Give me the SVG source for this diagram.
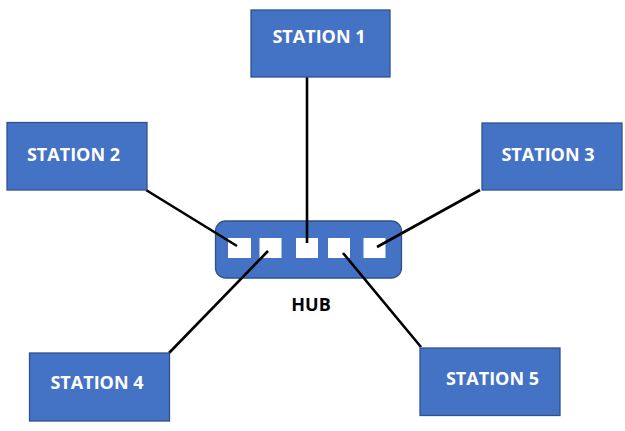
<svg xmlns="http://www.w3.org/2000/svg" width="625" height="431" viewBox="0 0 625 431">
<style>
.box{fill:#4472C4;stroke:#2F528F;stroke-width:1.3}
.lbl{font-family:"Open Sans","Liberation Sans",sans-serif;font-weight:bold;font-size:18px;fill:#fff;text-anchor:middle}
.hublbl{font-family:"Open Sans","Liberation Sans",sans-serif;font-weight:bold;font-size:18px;fill:#000;text-anchor:middle}
.port{fill:#fff}
.conn line{stroke:#000;stroke-width:2.6;stroke-linecap:butt}
</style>
<rect width="625" height="431" fill="#fff"/>
<g id="hub">
<rect class="box" x="215.5" y="221" width="186" height="57" rx="10"/>
<rect class="port" x="228" y="238" width="23" height="20"/>
<rect class="port" x="259.5" y="238" width="22" height="20"/>
<rect class="port" x="296" y="238" width="22" height="20"/>
<rect class="port" x="328" y="238" width="22" height="20"/>
<rect class="port" x="363.5" y="238" width="22" height="20"/>
<text class="hublbl" x="311" y="311">HUB</text>
</g>
<g class="conn" id="connectors">
<line x1="307" y1="77" x2="307" y2="243"/>
<line x1="146" y1="190" x2="237" y2="246"/>
<line x1="480" y1="190" x2="377" y2="247"/>
<line x1="169" y1="353" x2="268" y2="251"/>
<line x1="343" y1="253" x2="421" y2="347"/>
</g>
<g id="station1">
<rect class="box" x="251" y="10" width="139" height="67"/>
<text class="lbl" x="319" y="43">STATION 1</text>
</g>
<g id="station2">
<rect class="box" x="7" y="122.5" width="140" height="67.5"/>
<text class="lbl" x="73.5" y="161">STATION 2</text>
</g>
<g id="station3">
<rect class="box" x="482" y="123" width="140" height="67"/>
<text class="lbl" x="548" y="161">STATION 3</text>
</g>
<g id="station4">
<rect class="box" x="29.5" y="353" width="140" height="68"/>
<text class="lbl" x="97" y="388.5">STATION 4</text>
</g>
<g id="station5">
<rect class="box" x="420" y="348" width="140" height="67.5"/>
<text class="lbl" x="492.5" y="384.5">STATION 5</text>
</g>
</svg>
